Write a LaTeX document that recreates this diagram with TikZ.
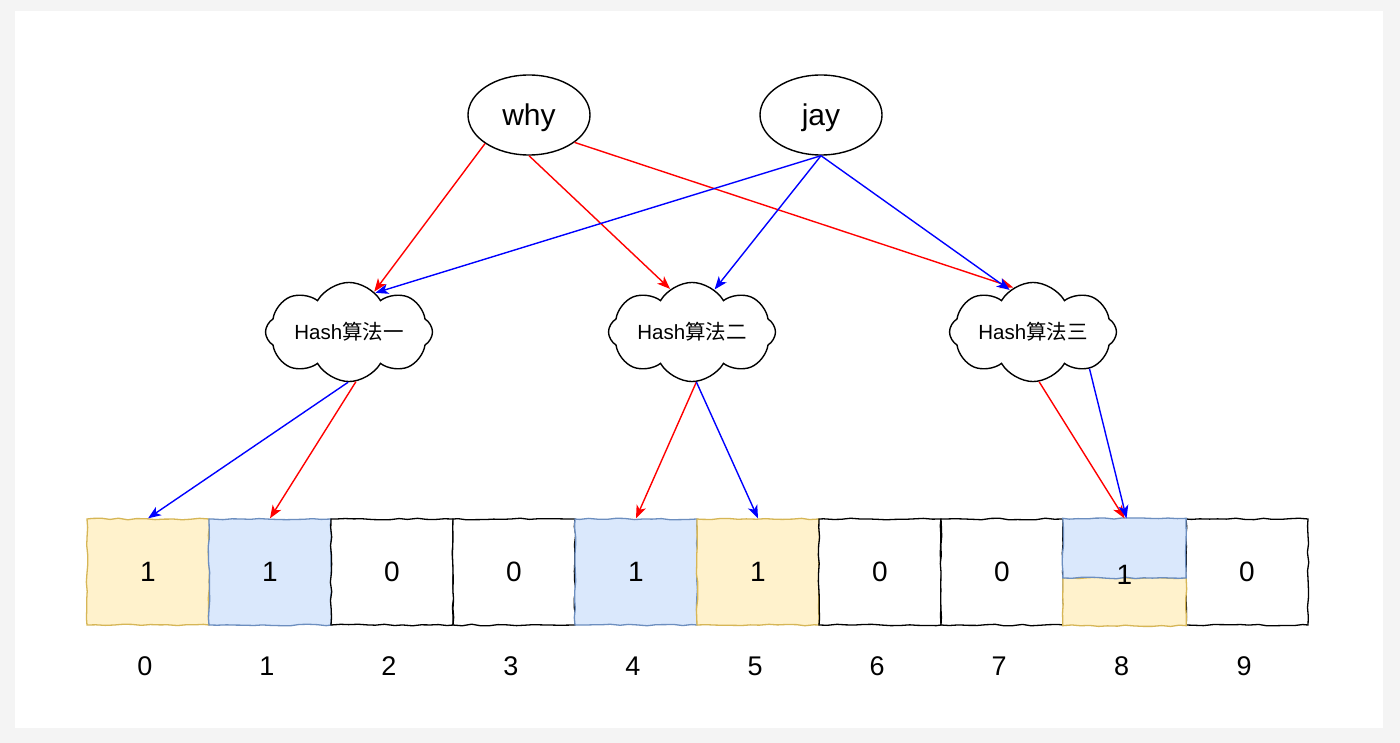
\documentclass[tikz,border=0pt]{standalone}
\usepackage{fontspec}
\setmainfont{Liberation Sans}
\newfontfamily\cjk{Noto Sans CJK SC}
\usetikzlibrary{shapes.geometric,shapes.symbols,arrows.meta,decorations.pathmorphing,calc}
\definecolor{yfill}{HTML}{FFF2CC}
\definecolor{ydraw}{HTML}{D6B656}
\definecolor{bfill}{HTML}{DAE8FC}
\definecolor{bdraw}{HTML}{6C8EBF}
\definecolor{bggray}{HTML}{F4F4F4}
\definecolor{rline}{HTML}{FF0000}
\definecolor{bline}{HTML}{0000FF}
\begin{document}
\begin{tikzpicture}[x=1pt,y=-1pt,
  sketch/.style={decorate,decoration={random steps,segment length=9pt,amplitude=0.8pt}},
  cell/.style={rectangle,minimum width=122pt,minimum height=106pt,inner sep=0pt,
    font=\fontsize{28pt}{32pt}\selectfont,line width=1.3pt},
  wcell/.style={cell,draw=black,fill=white,sketch},
  ycell/.style={cell,draw=ydraw,fill=yfill,sketch},
  bcell/.style={cell,draw=bdraw,fill=bfill,sketch},
  idx/.style={font=\fontsize{27pt}{32pt}\selectfont,inner sep=0pt,anchor=base},
  word/.style={ellipse,draw,line width=1.4pt,minimum width=122pt,minimum height=80pt,
    inner sep=0pt,text depth=0pt,font=\fontsize{30pt}{34pt}\selectfont},
  hash/.style={cloud,draw,line width=1.4pt,cloud puffs=8,cloud puff arc=120,aspect=2.2,
    minimum width=167pt,minimum height=62pt,inner sep=0pt,text height=14pt,text depth=0pt,
    font=\fontsize{20.5pt}{24pt}\selectfont},
  ra/.style={draw=rline,line width=1.4pt,-{Stealth[length=13pt,width=10pt,inset=3.5pt]}},
  ba/.style={draw=bline,line width=1.4pt,-{Stealth[length=13pt,width=10pt,inset=3.5pt]}},
]
\pgfmathsetseed{7}
\fill[bggray] (0,0) rectangle (1400,743);
\fill[white] (15,11) rectangle (1383,728);
\useasboundingbox (0,0) rectangle (1400,743);

% words
\node[word] (why) at (529,115) {why};
\node[word] (jay) at (821,115) {jay};

% hash clouds
\node[hash] (h1) at (349,332) {Hash{\cjk 算法一}};
\node[hash] (h2) at (692,332) {Hash{\cjk 算法二}};
\node[hash] (h3) at (1033,332) {Hash{\cjk 算法三}};

% cells
\node[ycell] (c0) at (148,572) {1};
\node[bcell] (c1) at (270,572) {1};
\node[wcell] (c2) at (392,572) {0};
\node[wcell] (c3) at (514,572) {0};
\node[bcell] (c4) at (636,572) {1};
\node[ycell] (c5) at (758,572) {1};
\node[wcell] (c6) at (880,572) {0};
\node[wcell] (c7) at (1002,572) {0};
\node[cell] (c8) at (1124.5,572) {};
\node[wcell] (c9) at (1247,572) {0};
\path[fill=yfill,draw=ydraw,line width=1.3pt,sketch] ($(c8.west)+(0,6)$) rectangle (c8.south east);
\path[fill=bfill,draw=bdraw,line width=1.3pt,sketch] (c8.north west) rectangle ($(c8.east)+(0,6)$);
\node[cell] at ($(c8.center)+(0,3)$) {1};

% index labels
\foreach \i/\d in {0/0,1/1,2/2,3/3,4/4,5/5,6/6,7/7,8/8,9/9}{
  \node[idx] (l\i) at ($(c\i.south)+(-3,50)$) {\d};
}

% arrows from words to hashes
\draw[ra] (why.213) -- (h1.58);
\draw[ra] (why.south) -- (h2.117);
\draw[ra] (why.-31) -- (h3.114);
\draw[ba] (jay.south) -- (h1.56);
\draw[ba] (jay.south) -- (h2.62);
\draw[ba] (jay.south) -- (h3.119);

% arrows from hashes to cells
\draw[ba] (h1.-91) -- (c0.north);
\draw[ra] (h1.-82) -- (c1.north);
\draw[ra] (h2.-85) -- (c4.north);
\draw[ba] (h2.-85) -- (c5.north);
\draw[ra] (h3.-83) -- (c8.north);
\draw[ba] (h3.-33) -- ($(c8.north)+(2,0)$);
\end{tikzpicture}
\end{document}
